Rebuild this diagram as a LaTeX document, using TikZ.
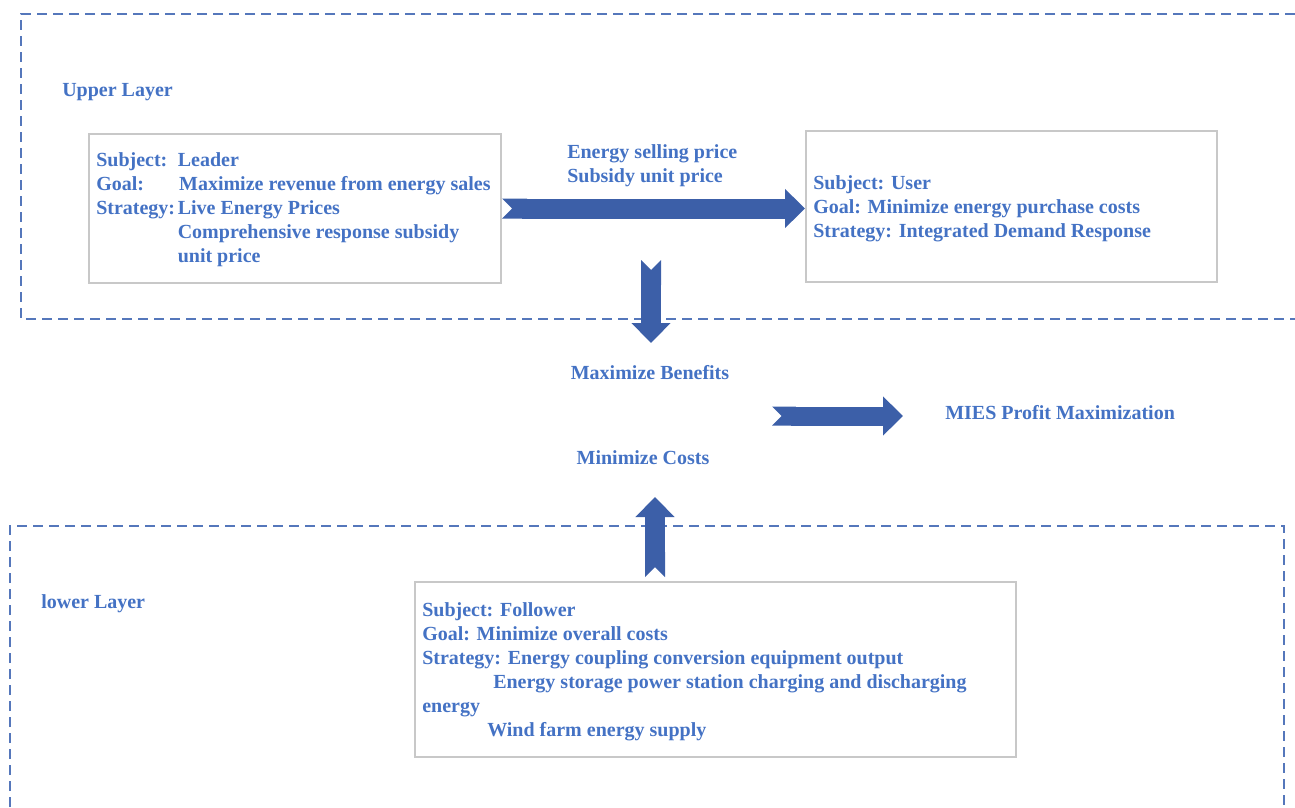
\documentclass[tikz,border=0pt]{standalone}
\usepackage{fontspec}
\setmainfont{Liberation Serif}
\usetikzlibrary{arrows.meta,positioning}

\definecolor{txtblue}{HTML}{4472C4}
\definecolor{arrblue}{HTML}{3C5FA8}
\definecolor{dashblue}{HTML}{5577BB}
\definecolor{boxgray}{HTML}{C8C8C8}

\tikzset{
  txt/.style={text=txtblue, font=\fontsize{15}{18}\selectfont\bfseries, inner sep=0pt},
  infobox/.style={draw=boxgray, line width=1.5pt, inner sep=0pt},
  layer/.style={draw=dashblue, line width=1.1pt, dash pattern=on 7.5pt off 4.5pt},
  bigarrow/.style={arrblue, line width=15pt,
    {Triangle Cap[reversed]}-{Triangle[length=15pt, width=28.5pt]}}
}

\begin{document}
\begin{tikzpicture}[x=0.75pt, y=-0.75pt]
	\useasboundingbox (0,0) rectangle (1295,807);
	% layers
	\draw[layer] (1295,14) -- (21,14) -- (21,319) -- (1295,319);
	\draw[layer] (10,807) -- (10,526) -- (1284,526) -- (1284,807);
	\node[txt, anchor=base west] (upper) at (62,96) {Upper Layer};
	\node[txt, anchor=base west] (lower) at (41,608) {lower Layer};
	% boxes
	\node[infobox, minimum width={412*0.75pt}, minimum height={149*0.75pt}] (leader) at (295,208.5) {};
	\node[infobox, minimum width={411*0.75pt}, minimum height={151*0.75pt}] (user) at (1011.5,206.5) {};
	\node[infobox, minimum width={601*0.75pt}, minimum height={175*0.75pt}] (follower) at (715.5,669.5) {};
	\node[txt, anchor=north west] (leadertxt) at (96,149.5) {\begin{tabular}{@{}l@{\hspace{2pt}}l@{}}
		Subject: & Leader\\
		Goal: & \hspace{1pt}Maximize revenue from energy sales\\
		Strategy: & Live Energy Prices\\
		 & Comprehensive response subsidy\\
		 & unit price
	\end{tabular}};
	\node[txt, anchor=north west] (usertxt) at (813,172.5) {\begin{tabular}{@{}l@{}}
		Subject: User\\
		Goal: Minimize energy purchase costs\\
		Strategy: Integrated Demand Response
	\end{tabular}};
	\node[txt, anchor=north west] (followertxt) at (422,599.5) {\begin{tabular}{@{}l@{}}
		Subject: Follower\\
		Goal: Minimize overall costs\\
		Strategy: Energy coupling conversion equipment output\\
		\hspace{53.25pt}Energy storage power station charging and discharging\\
		energy\\
		\hspace{48.75pt}Wind farm energy supply
	\end{tabular}};
	\node[txt, anchor=north west] (price) at (567,141.5) {\begin{tabular}{@{}l@{}}
		Energy selling price\\
		Subsidy unit price
	\end{tabular}};
	\node[txt, anchor=base] (benefit) at (650,379.5) {Maximize Benefits};
	\node[txt, anchor=base] (cost) at (643,464.5) {Minimize Costs};
	\node[txt, anchor=base west] (mies) at (945,419.5) {MIES Profit Maximization};
	% arrows
	\coordinate (downtop) at (651,260);
	\coordinate (downtip) at (651,343);
	\coordinate (upbase) at (655,577);
	\coordinate (uptip) at (655,497);
	\coordinate (midtail) at (772,416);
	\coordinate (midtip) at (903,416);
	\draw[bigarrow] (leader.east) -- (user.west |- leader.east);
	\draw[bigarrow] (downtop) -- (downtip);
	\draw[bigarrow] (upbase) -- (uptip);
	\draw[bigarrow, line width=14.25pt] (midtail) -- (midtip);
\end{tikzpicture}
\end{document}
